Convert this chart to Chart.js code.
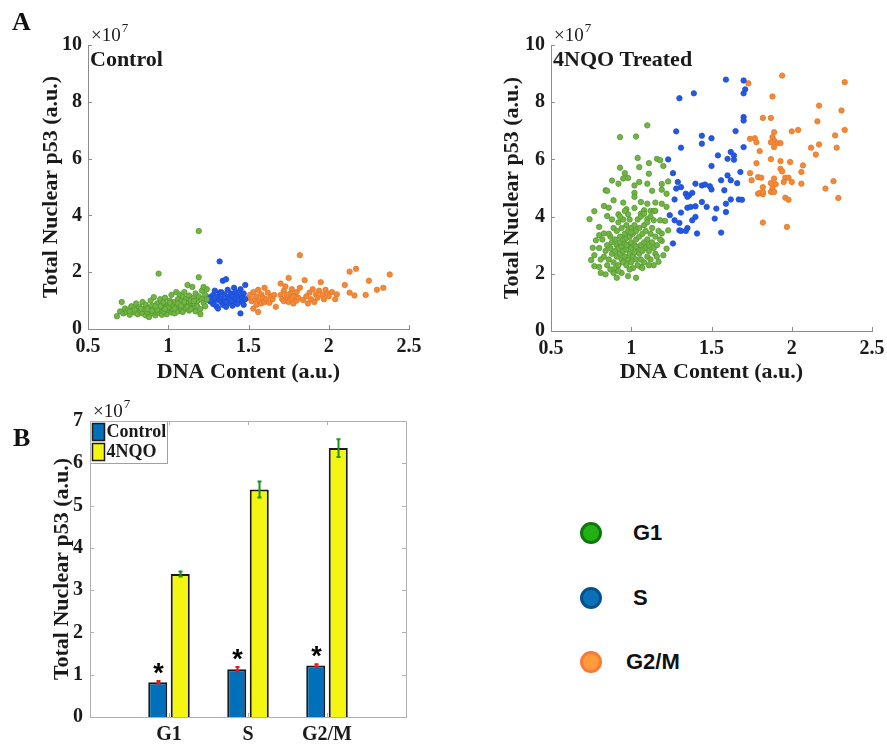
<!DOCTYPE html>
<html>
<head>
<meta charset="utf-8">
<script src="https://cdn.jsdelivr.net/npm/chart.js@4"></script>
<style>
  body { margin: 0; background: #fff; }
  #page { position: relative; width: 887px; height: 746px; overflow: hidden; }
  canvas { position: absolute; }
  .panel { position: absolute; font: bold 26px "Liberation Serif", serif; line-height: 26px; color: #111; }
  .key { position: absolute; left: 580px; font: bold 22px "Liberation Sans", Arial, sans-serif; color: #111; }
  .key .txt { position: absolute; height: 22px; line-height: 22px; white-space: nowrap; }
  .key .dot { position: absolute; box-sizing: border-box; width: 22px; height: 22px; border-radius: 50%; border: 3px solid; }
</style>
</head>
<body>
<div id="page">
  <canvas id="ctrlChart" style="left:0;top:0"></canvas>
  <canvas id="trtChart" style="left:440px;top:0"></canvas>
  <canvas id="barChart" style="left:0;top:390px"></canvas>
  <div class="panel" style="left:12px;top:9px">A</div>
  <div class="panel" style="left:13px;top:425px">B</div>
  <div class="key" id="phaseKey" style="top:0"></div>
</div>
<script>
// Panel A data, p53 in units of 1e7
const dnaTicks = [0.5, 1, 1.5, 2, 2.5];
const p53Ticks = [0, 2, 4, 6, 8, 10];

const ctrlG1 = [
  [0.68,0.45],[0.70,0.62],[0.71,0.95],[0.72,0.55],[0.73,0.72],[0.74,0.60],[0.75,0.68],[0.76,0.50],[0.77,0.80],[0.78,0.65],
  [0.79,0.58],[0.80,0.90],[0.80,0.70],[0.81,0.52],[0.82,0.78],[0.83,0.62],[0.84,0.95],[0.84,0.55],[0.85,0.70],[0.86,0.48],
  [0.86,0.85],[0.87,0.60],[0.88,0.75],[0.88,0.42],[0.89,1.00],[0.89,0.66],[0.90,0.55],[0.90,0.82],[0.91,0.70],[0.91,1.12],
  [0.92,0.48],[0.92,0.62],[0.93,0.90],[0.93,0.76],[0.94,1.95],[0.94,0.58],[0.95,0.68],[0.95,1.05],[0.96,0.50],[0.96,0.84],
  [0.97,0.72],[0.97,0.95],[0.98,0.60],[0.98,1.10],[0.99,0.78],[0.99,0.52],[1.00,0.88],[1.00,0.66],[1.01,1.00],[1.01,0.74],
  [1.02,0.58],[1.02,1.20],[1.03,0.85],[1.03,0.68],[1.04,0.95],[1.04,0.55],[1.05,1.30],[1.05,0.78],[1.06,0.62],[1.06,1.05],
  [1.07,0.88],[1.07,1.22],[1.08,0.70],[1.08,0.98],[1.09,0.60],[1.09,1.15],[1.10,0.82],[1.10,1.30],[1.11,0.72],[1.11,1.05],
  [1.12,0.92],[1.12,1.55],[1.13,0.65],[1.13,1.18],[1.14,0.85],[1.14,1.00],[1.15,1.48],[1.15,0.75],[1.16,1.10],[1.16,0.90],
  [1.17,0.62],[1.17,1.25],[1.18,0.98],[1.18,0.80],[1.19,3.45],[1.19,1.82],[1.19,1.15],[1.20,0.70],[1.20,0.52],[1.21,1.05],
  [1.21,1.35],[1.22,0.92],[1.22,1.48],[1.23,1.20],[1.23,0.80],[1.24,1.05],[1.24,1.40],[0.87,0.70],[0.90,0.64],[0.93,0.68],
  [0.95,0.80],[0.97,0.62],[1.00,0.76],[1.02,0.86],[1.04,0.72],[1.06,0.90],[1.08,0.82],[0.83,0.72],[0.79,0.68],[0.76,0.62],
  [1.10,0.95],[1.12,0.78],[1.14,0.70],[1.16,0.98],[1.01,0.92],[0.98,0.70],[0.92,0.80]
];
const ctrlS = [
  [1.25,1.05],[1.26,1.12],[1.27,0.95],[1.28,1.20],[1.28,0.88],[1.29,1.35],[1.30,1.02],[1.30,0.80],[1.31,1.15],[1.31,0.72],
  [1.32,2.38],[1.32,1.28],[1.33,0.95],[1.33,1.08],[1.34,1.70],[1.34,0.85],[1.35,1.22],[1.35,1.00],[1.36,1.75],[1.36,0.78],
  [1.37,1.12],[1.37,1.38],[1.38,0.92],[1.38,1.05],[1.39,1.25],[1.40,0.82],[1.40,1.15],[1.41,1.45],[1.41,0.98],[1.42,1.08],
  [1.42,1.30],[1.43,0.88],[1.43,1.20],[1.44,1.02],[1.45,0.55],[1.45,1.40],[1.46,0.95],[1.46,1.12],[1.47,1.25],[1.47,0.85],
  [1.48,1.55],[1.48,1.05],[1.29,1.10],[1.33,1.30],[1.39,1.00],[1.44,1.28],[1.26,0.98],[1.36,0.95]
];
const ctrlG2M = [
  [1.50,1.10],[1.51,1.20],[1.52,0.98],[1.53,1.30],[1.53,0.72],[1.54,1.05],[1.55,1.15],[1.55,0.85],[1.56,1.38],[1.56,0.60],
  [1.57,1.00],[1.58,1.22],[1.58,0.90],[1.59,1.10],[1.60,1.45],[1.60,0.95],[1.61,1.05],[1.62,1.28],[1.63,0.92],[1.64,1.15],
  [1.65,1.05],[1.67,0.78],[1.70,1.60],[1.70,1.20],[1.71,1.05],[1.72,1.35],[1.72,0.98],[1.73,1.50],[1.74,1.12],[1.75,1.80],
  [1.75,0.95],[1.76,1.25],[1.77,1.05],[1.77,1.40],[1.78,0.90],[1.79,1.18],[1.80,1.00],[1.80,1.30],[1.81,1.10],[1.82,2.60],
  [1.82,1.45],[1.84,1.02],[1.85,1.72],[1.86,1.15],[1.87,0.90],[1.88,1.28],[1.89,1.05],[1.90,1.40],[1.91,0.95],[1.92,1.22],
  [1.93,1.10],[1.94,1.35],[1.95,1.65],[1.96,1.20],[1.97,1.05],[1.98,1.38],[1.99,1.25],[2.00,1.15],[2.02,1.30],[2.04,1.05],
  [2.05,1.22],[2.10,1.55],[2.13,1.28],[2.13,2.02],[2.16,1.18],[2.17,2.12],[2.23,1.20],[2.25,1.70],[2.30,1.38],[2.34,1.45],
  [2.38,1.92],[1.66,1.20],[1.74,1.20],[1.78,1.15]
];

const trtG1 = [
  [1.10,7.19],[0.93,6.78],[1.03,6.80],[1.04,6.05],[1.16,6.02],[1.18,5.97],[1.20,5.77],[1.11,5.87],[1.05,5.73],[0.93,5.71],
  [0.96,5.52],[0.98,5.35],[0.95,5.33],[1.11,5.50],[0.88,5.26],[0.92,5.15],[1.05,5.21],[1.10,5.15],[1.19,5.14],[1.23,5.23],
  [1.02,5.09],[0.84,4.92],[0.85,4.90],[1.13,4.90],[1.19,4.94],[1.02,4.83],[1.02,4.69],[0.89,4.57],[0.95,4.49],[1.22,4.80],
  [1.06,4.51],[1.10,4.45],[1.15,4.49],[1.19,4.45],[0.83,4.37],[0.86,4.31],[0.77,4.19],[0.97,4.26],[1.08,4.22],[1.12,4.20],
  [1.14,4.20],[1.15,4.20],[1.22,4.34],[0.74,3.91],[0.85,4.02],[0.92,4.08],[0.98,4.08],[1.06,4.10],[1.10,3.91],[1.14,3.87],
  [1.18,3.87],[1.21,3.85],[1.19,3.41],[1.23,3.52],[1.19,3.15],[1.22,2.88],[1.20,2.65],[1.17,2.42],[0.76,2.91],[0.77,2.65],
  [0.75,2.48],[0.77,2.27],[0.80,2.24],[0.81,2.03],[0.84,1.98],[0.91,1.86],[0.98,1.92],[1.03,1.86],[0.94,2.03],[0.89,2.03],
  [1.06,2.24],[1.11,2.30],[0.83,3.41],[0.80,3.35],[0.78,3.17],[0.80,3.64],
  [0.86,2.50],[0.87,2.90],[0.87,3.30],[0.88,2.70],[0.88,3.10],[0.89,2.40],[0.89,3.60],[0.90,2.80],[0.90,3.20],[0.90,2.20],
  [0.91,3.00],[0.91,3.50],[0.91,2.60],[0.92,3.80],[0.92,2.90],[0.92,2.30],[0.93,3.30],[0.93,2.70],[0.93,3.10],[0.94,2.50],
  [0.94,3.60],[0.94,2.95],[0.95,3.20],[0.95,2.40],[0.95,3.90],[0.95,2.80],[0.96,3.40],[0.96,2.60],[0.96,3.05],[0.97,2.30],
  [0.97,3.70],[0.97,2.85],[0.97,3.25],[0.98,2.50],[0.98,3.50],[0.98,3.00],[0.99,2.70],[0.99,3.30],[0.99,3.90],[1.00,2.40],
  [1.00,3.10],[1.00,3.60],[1.00,2.90],[1.01,2.60],[1.01,3.40],[1.01,2.20],[1.02,3.00],[1.02,3.70],[1.02,2.75],[1.03,3.20],
  [1.03,2.50],[1.03,3.50],[1.04,2.90],[1.04,3.90],[1.04,2.30],[1.05,3.30],[1.05,2.70],[1.05,3.60],[1.06,3.00],[1.06,2.50],
  [1.06,4.00],[1.07,3.40],[1.07,2.80],[1.08,3.10],[1.08,2.40],[1.08,3.70],[1.09,2.90],[1.09,3.50],[1.10,3.20],[1.10,2.60],
  [1.10,3.80],[1.11,3.00],[1.11,2.80],[1.12,3.40],[1.12,2.50],[1.13,3.10],[1.13,3.60],[1.14,2.90],[1.15,3.30],[1.15,2.70],
  [1.16,3.00],[1.17,3.50],[0.85,3.00],[0.84,2.80],[0.86,3.40],[0.88,3.90],[0.83,2.60],[0.82,3.20],[0.85,2.30],[0.93,4.00],
  [0.96,4.20],[1.02,4.30],[1.08,4.10],[1.12,4.00],[1.18,3.20],[1.16,2.60],[1.14,2.30],[1.07,2.20],[0.99,2.15],[0.92,2.10],
  [0.87,2.15],[0.81,2.50],[0.80,2.90],[1.00,3.45],[0.97,3.00],[1.03,2.95]
];
const trtS = [
  [1.59,8.79],[1.70,8.76],[1.71,8.45],[1.70,8.31],[1.30,8.14],[1.39,8.31],[1.70,7.48],[1.70,7.36],[1.28,6.98],[1.65,6.99],
  [1.44,6.83],[1.50,6.74],[1.44,6.55],[1.31,6.41],[1.70,6.43],[1.62,6.26],[1.64,6.14],[1.54,6.14],[1.60,6.02],[1.64,5.99],
  [1.23,6.00],[1.26,5.52],[1.50,5.77],[1.68,5.56],[1.60,5.44],[1.62,5.27],[1.56,5.27],[1.66,5.17],[1.29,5.21],[1.31,5.03],
  [1.28,4.98],[1.40,5.15],[1.44,5.09],[1.46,5.12],[1.49,5.06],[1.50,4.95],[1.58,4.92],[1.34,4.80],[1.36,4.74],[1.35,4.69],
  [1.38,4.83],[1.27,4.60],[1.62,4.60],[1.67,4.60],[1.69,4.59],[1.59,4.45],[1.44,4.51],[1.47,4.34],[1.35,4.31],[1.37,4.34],
  [1.53,4.28],[1.40,4.36],[1.24,4.05],[1.31,4.14],[1.59,4.16],[1.40,3.99],[1.38,3.87],[1.27,3.87],[1.30,3.78],[1.35,3.60],
  [1.52,3.93],[1.30,3.52],[1.31,3.50],[1.34,3.50],[1.41,3.41],[1.56,3.44],[1.26,3.06]
];
const trtG2M = [
  [1.94,8.93],[1.73,8.66],[2.33,8.70],[1.88,8.20],[2.17,7.88],[2.31,7.71],[1.82,7.45],[1.87,7.45],[2.16,7.33],[2.33,7.03],
  [2.04,7.03],[2.00,6.98],[1.89,6.95],[1.74,6.72],[1.77,6.74],[1.78,6.60],[1.88,6.78],[1.89,6.66],[1.91,6.57],[1.93,6.57],
  [1.89,6.43],[1.87,6.60],[2.27,6.84],[2.17,6.52],[2.12,6.41],[2.28,6.41],[1.80,6.29],[2.15,6.17],[1.87,6.01],[1.93,5.94],
  [1.99,5.91],[1.78,5.87],[2.07,5.79],[1.93,5.67],[1.94,5.58],[1.74,5.52],[2.06,5.56],[1.79,5.38],[1.81,5.36],[1.89,5.33],
  [1.96,5.36],[1.98,5.36],[1.95,5.21],[2.00,5.21],[2.26,5.24],[1.87,5.17],[1.90,5.13],[1.75,5.27],[2.06,5.15],[1.82,5.03],
  [1.88,4.98],[2.21,4.98],[1.87,4.86],[1.89,4.86],[1.79,4.80],[1.80,4.83],[1.82,4.78],[1.82,4.86],[1.96,4.66],[1.98,4.59],
  [2.29,4.65],[1.82,3.79],[1.97,3.64]
];

// Panel B data, means and error in units of 1e7
const phases = ['G1', 'S', 'G2/M'];
const ctrlMean = [0.82, 1.13, 1.22];
const ctrlErr = [0.03, 0.05, 0.03];
const nqoMean = [3.38, 5.38, 6.36];
const nqoErr = [0.06, 0.19, 0.21];
const barTicks = [0, 1, 2, 3, 4, 5, 6, 7];

const phaseColors = [
  { name: 'G1', fill: '#74b446', edge: '#4f9a2c', key: '#22b014', keyEdge: '#0e760a' },
  { name: 'S', fill: '#2358e2', edge: '#1d4ed0', key: '#0a70b8', keyEdge: '#07508e' },
  { name: 'G2/M', fill: '#f0893a', edge: '#e87722', key: '#ff9b3c', keyEdge: '#f77a38' }
];

Chart.defaults.font.family = '"Liberation Serif", "Times New Roman", serif';
Chart.defaults.color = '#1a1a1a';

const toPts = arr => arr.map(p => ({ x: p[0], y: p[1] }));

// ×10^7 multiplier and panel caption at top-left of the plot area
const annotate = {
  id: 'annotate',
  afterDraw(chart, args, opts) {
    const { ctx, chartArea: a } = chart;
    ctx.save();
    ctx.fillStyle = '#1a1a1a';
    ctx.textAlign = 'left';
    ctx.textBaseline = 'alphabetic';
    ctx.font = '19px "Liberation Serif"';
    ctx.fillText('×10', a.left + 3, a.top - 4);
    const w = ctx.measureText('×10').width;
    ctx.font = '13px "Liberation Serif"';
    ctx.fillText('7', a.left + 4 + w, a.top - 13);
    if (opts.label) {
      ctx.font = 'bold 22px "Liberation Serif"';
      ctx.textBaseline = 'middle';
      ctx.fillText(opts.label, a.left + 2, a.top + 15);
    }
    ctx.restore();
  }
};

// MATLAB style inward tick marks (and optional box)
const inTicks = {
  id: 'inTicks',
  afterDraw(chart, args, opts) {
    const { ctx, chartArea: a, scales: { x, y } } = chart;
    const len = 4;
    ctx.save();
    ctx.strokeStyle = opts.color;
    ctx.lineWidth = 1;
    ctx.beginPath();
    x.ticks.forEach((t, i) => {
      const px = Math.round(x.getPixelForTick(i)) + 0.5;
      ctx.moveTo(px, a.bottom); ctx.lineTo(px, a.bottom - len);
      if (opts.box) { ctx.moveTo(px, a.top); ctx.lineTo(px, a.top + len); }
    });
    y.ticks.forEach((t, i) => {
      const py = Math.round(y.getPixelForTick(i)) + 0.5;
      ctx.moveTo(a.left, py); ctx.lineTo(a.left + len, py);
      if (opts.box) { ctx.moveTo(a.right, py); ctx.lineTo(a.right - len, py); }
    });
    if (opts.box) ctx.rect(Math.round(a.left) + 0.5, Math.round(a.top) + 0.5, Math.round(a.width), Math.round(a.height));
    ctx.stroke();
    ctx.restore();
  }
};

function scatterOptions(yPad, rightPad, yTitlePad, xHeight) {
  return {
    responsive: false,
    animation: false,
    events: [],
    layout: { padding: { left: 0, top: 45, right: rightPad, bottom: 0 } },
    plugins: { legend: { display: false }, tooltip: { enabled: false } },
    scales: {
      x: {
        type: 'linear', min: 0.5, max: 2.5,
        grid: { display: false, drawTicks: false },
        border: { display: true, color: '#8c8c8c', width: 1 },
        afterBuildTicks: s => { s.ticks = dnaTicks.map(v => ({ value: v })); },
        afterFit: s => { s.height = xHeight; s.paddingLeft = s.paddingRight = 0; },
        ticks: { padding: 6, font: { size: 20, weight: 'bold' }, callback: v => String(v) },
        title: { display: true, text: 'DNA Content (a.u.)', font: { size: 22, weight: 'bold' }, padding: { top: 4, bottom: 4 } }
      },
      y: {
        type: 'linear', min: 0, max: 10,
        grid: { display: false, drawTicks: false },
        border: { display: true, color: '#8c8c8c', width: 1 },
        afterBuildTicks: s => { s.ticks = p53Ticks.map(v => ({ value: v })); },
        afterFit: s => { s.width = yPad; s.paddingTop = s.paddingBottom = 0; },
        ticks: { padding: 6, font: { size: 20, weight: 'bold' }, callback: v => String(v) },
        title: { display: true, text: 'Total Nuclear p53 (a.u.)', font: { size: 22, weight: 'bold' }, padding: { top: yTitlePad, bottom: yTitlePad } }
      }
    }
  };
}

function scatterData(g1, s, g2m) {
  return {
    datasets: [g1, s, g2m].map((d, i) => ({
      label: phaseColors[i].name,
      data: toPts(d),
      backgroundColor: phaseColors[i].fill,
      borderColor: phaseColors[i].edge,
      borderWidth: 0.8,
      pointRadius: 2.7
    }))
  };
}

function makeScatter(id, w, h, data, opts, label) {
  const canvas = document.getElementById(id);
  canvas.width = w; canvas.height = h;
  opts.plugins.annotate = { label: label };
  opts.plugins.inTicks = { color: '#8c8c8c', box: false };
  return new Chart(canvas.getContext('2d'), {
    type: 'scatter', data: data, options: opts, plugins: [inTicks, annotate]
  });
}

makeScatter('ctrlChart', 440, 390, scatterData(ctrlG1, ctrlS, ctrlG2M),
  scatterOptions(88, 31, 38, 61), 'Control');
makeScatter('trtChart', 447, 390, scatterData(trtG1, trtS, trtG2M),
  scatterOptions(111, 15, 59, 59), '4NQO Treated');

// Panel B: error bars, significance stars and the small boxed legend
const barExtras = {
  id: 'barExtras',
  afterDatasetsDraw(chart) {
    const { ctx, chartArea: a, scales: { y } } = chart;
    const sets = [
      { mean: ctrlMean, err: ctrlErr, color: '#e8141a' },
      { mean: nqoMean, err: nqoErr, color: '#1c8f1c' }
    ];
    ctx.save();
    sets.forEach((s, di) => {
      const meta = chart.getDatasetMeta(di);
      meta.data.forEach((bar, j) => {
        const bx = Math.round(bar.x) + 0.5;
        const y1 = y.getPixelForValue(s.mean[j] - s.err[j]);
        const y2 = y.getPixelForValue(s.mean[j] + s.err[j]);
        ctx.strokeStyle = s.color;
        ctx.lineWidth = 2;
        ctx.beginPath();
        ctx.moveTo(bx, y1); ctx.lineTo(bx, y2);
        ctx.moveTo(bx - 2, y1); ctx.lineTo(bx + 2, y1);
        ctx.moveTo(bx - 2, y2); ctx.lineTo(bx + 2, y2);
        ctx.stroke();
        if (di === 0) {
          ctx.fillStyle = '#000';
          ctx.font = 'bold 27px "Liberation Sans"';
          ctx.textAlign = 'center';
          ctx.textBaseline = 'alphabetic';
          ctx.fillText('*', bx, y2 + 1);
        }
      });
    });
    // legend box
    const lx = Math.round(a.left) + 0.5, ly = Math.round(a.top) + 0.5;
    ctx.fillStyle = '#fff';
    ctx.strokeStyle = '#a0a0a0';
    ctx.lineWidth = 1;
    ctx.fillRect(lx, ly, 77, 42);
    ctx.strokeRect(lx, ly, 77, 42);
    chart.data.datasets.forEach((ds, i) => {
      const top = ly + 2 + i * 20;
      ctx.fillStyle = ds.backgroundColor;
      ctx.fillRect(lx + 2, top, 12, 17);
      ctx.strokeStyle = '#1a1a1a';
      ctx.lineWidth = 1.5;
      ctx.strokeRect(lx + 2, top, 12, 17);
      ctx.fillStyle = '#1a1a1a';
      ctx.font = 'bold 18px "Liberation Serif"';
      ctx.textAlign = 'left';
      ctx.textBaseline = 'middle';
      ctx.fillText(ds.label, lx + 16, top + 9);
    });
    ctx.restore();
  }
};

const barCanvas = document.getElementById('barChart');
barCanvas.width = 440; barCanvas.height = 356;
new Chart(barCanvas.getContext('2d'), {
  type: 'bar',
  data: {
    datasets: [
      { label: 'Control', data: ctrlMean.map((v, i) => ({ x: i + 1, y: v })), backgroundColor: '#0070bb', borderColor: '#1a1a1a', borderWidth: 2 },
      { label: '4NQO', data: nqoMean.map((v, i) => ({ x: i + 1, y: v })), backgroundColor: '#f5f512', borderColor: '#1a1a1a', borderWidth: 2 }
    ]
  },
  options: {
    responsive: false,
    animation: false,
    events: [],
    categoryPercentage: 0.57,
    barPercentage: 0.845,
    layout: { padding: { left: 0, top: 31, right: 34, bottom: 0 } },
    plugins: { legend: { display: false }, tooltip: { enabled: false }, annotate: { label: '' }, inTicks: { color: '#b0b0b0', box: true } },
    scales: {
      x: {
        type: 'linear', min: 0, max: 4, offset: false,
        grid: { display: false, drawTicks: false, offset: false },
        border: { display: true, color: '#b0b0b0', width: 1 },
        afterBuildTicks: s => { s.ticks = phases.map((p, i) => ({ value: i + 1 })); },
        afterFit: s => { s.height = 29; s.paddingLeft = s.paddingRight = 0; },
        ticks: { padding: 6, font: { size: 20, weight: 'bold' }, callback: v => phases[v - 1] }
      },
      y: {
        type: 'linear', min: 0, max: 7,
        grid: { display: false, drawTicks: false },
        border: { display: true, color: '#b0b0b0', width: 1 },
        afterBuildTicks: s => { s.ticks = barTicks.map(v => ({ value: v })); },
        afterFit: s => { s.width = 90; s.paddingTop = s.paddingBottom = 0; },
        ticks: { padding: 7, font: { size: 20, weight: 'bold' }, callback: v => String(v) },
        title: { display: true, text: 'Total Nuclear p53 (a.u.)', font: { size: 22, weight: 'bold' }, padding: { top: 49, bottom: 49 } }
      }
    }
  },
  plugins: [inTicks, barExtras, annotate]
});

// phase colour key on the right
const key = document.getElementById('phaseKey');
const keyRows = [533, 598, 662];
phaseColors.forEach((p, i) => {
  const dot = document.createElement('div');
  dot.className = 'dot';
  dot.style.left = '0px';
  dot.style.top = (keyRows[i] - 11) + 'px';
  dot.style.background = p.key;
  dot.style.borderColor = p.keyEdge;
  key.appendChild(dot);
  const txt = document.createElement('div');
  txt.className = 'txt';
  txt.textContent = p.name;
  txt.style.left = (p.name === 'G2/M' ? 46 : 53) + 'px';
  txt.style.top = (keyRows[i] - 11) + 'px';
  key.appendChild(txt);
});
</script>
</body>
</html>
